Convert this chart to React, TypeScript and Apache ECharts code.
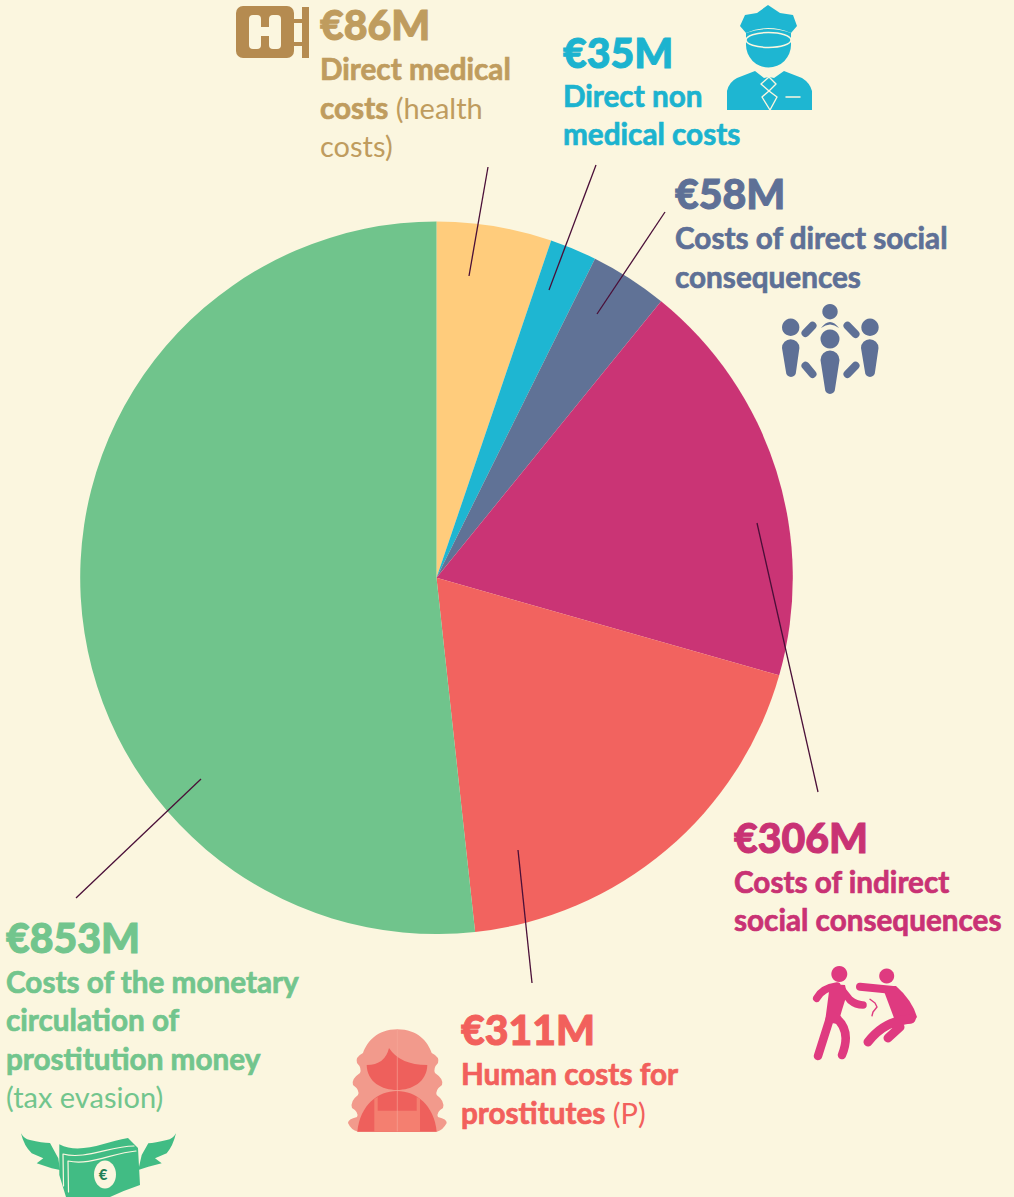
import React, { useEffect, useRef } from "react";
import * as echarts from "echarts";

const categories = [
  "Direct medical costs",
  "Direct non medical costs",
  "Costs of direct social consequences",
  "Costs of indirect social consequences",
  "Human costs for prostitutes",
  "Costs of the monetary circulation of prostitution money",
];
const values = [86, 35, 58, 306, 311, 853];
const sliceColors = ["#FFCC7C", "#1EB6D2", "#607296", "#CA3475", "#F2635F", "#70C48C"];
const textColors = ["#BF9C5E", "#1CB3CF", "#5E7096", "#C93274", "#F2605C", "#72C58D"];
const amounts = ["€86M", "€35M", "€58M", "€306M", "€311M", "€853M"];
const descriptions: string[][][] = [
  [["Direct medical"], ["costs", " (health"], ["", "costs)"]],
  [["Direct non"], ["medical costs"]],
  [["Costs of direct social"], ["consequences"]],
  [["Costs of indirect"], ["social consequences"]],
  [["Human costs for"], ["prostitutes", " (P)"]],
  [["Costs of the monetary"], ["circulation of"], ["prostitution money"], ["", "(tax evasion)"]],
];
const labelX = [320, 563, 675, 734, 461, 6];
const amountY = [24, 52, 193, 837, 1029, 937];
const lineY = [
  [68, 107, 145],
  [95, 133],
  [237, 276],
  [881, 919],
  [1073, 1112],
  [981, 1019, 1058, 1096],
];
const leaders = [
  [488, 167, 469, 276],
  [596, 165, 549, 290],
  [665, 212, 597, 314],
  [757, 523, 818, 792],
  [518, 850, 532, 983],
  [201, 779, 76, 898],
];

const BG = "#FBF6DF";
const FONT = "Lato";

const shapes: Record<string, string> = {
  capTop:
    "M768 5 L780 13 L793 15 L797 26 L791 33 Q768 23 746 33 L740 26 L745 15 L757 13 Z",
  capBand: "M746 33 Q768 25 791 33 L791 40 L746 40 Z",
  policeFace: "M746 40 Q768 50 791 40 L791 45 A22.5 22.5 0 0 1 746 45 Z",
  policeBody:
    "M727 110 L727 91 Q729 82 737 78 L755 71 L764 78 L769 77 L774 78 L784 71 L802 78 Q810 83 812 91 L812 110 Z",
  policeTie: "M769 77 L776 84 L769 91 L777 97 L770 110 L762 97 L769 91 L761 84 Z",
  crowdArc: "M821 328 Q830 316 839 328 Q830 321 821 328 Z",
  crowdLeft: "M782 348 A8.7 8.7 0 0 1 799.4 348 L796 372 A5 5 0 0 1 786 372 Z",
  crowdRight: "M861 348 A8.7 8.7 0 0 1 878.5 348 L875 372 A5 5 0 0 1 865 372 Z",
  crowdMid: "M820.5 360 A9.5 9.5 0 0 1 839.5 360 L835 389 A5 5 0 0 1 825 389 Z",
  fightArms: "M816.7 998.3 Q822 988 837 986 M842 990 L850 1000 Q856 1005 863 1005",
  fightTorso: "M830 984 L845 985 L847 994 L842 1010 L838 1024 L825 1022 Z",
  fightLegs: "M831 1015 L818 1056 M835 1017 Q852 1030 842 1055",
  fightArm2: "M860 986.7 L893 990",
  fightTorso2: "M882 986 L896 986 Q912 1000 917 1017 L913 1023 L897 1026 Z",
  fightLegs2: "M911 1019 Q885 1020 868 1042 M900 1027 L888 1038",
  pain: "M870 999.3 L875 1003 L877 1007 L873 1012 L872 1015.7",
  hair:
    "M397.3 1029.3 C418 1029.3 428 1042 431.7 1053 Q440 1057 438 1063 Q433 1068 435 1073 Q444 1079 442 1085 Q435 1090 436.7 1095 Q445 1101 443 1108 Q436 1112 438 1117 Q447 1119 446.7 1123 Q443 1130 437 1131.7 L358 1131.7 Q351 1130 348 1123 Q348 1119 357 1117 Q359 1112 352 1108 Q350 1101 358 1095 Q360 1090 353 1085 Q351 1079 360 1073 Q362 1068 357 1063 Q355 1057 363 1053 C367 1042 377 1029.3 397.3 1029.3 Z",
  face: "M366.7 1065 Q385 1065 389 1048 Q400 1065 427.3 1065 C427 1082 412 1090 397 1090 C382 1090 367 1082 366.7 1065 Z",
  torso: "M357.3 1131.7 C360 1105 378 1091 397 1091 C416 1091 434 1105 436.7 1131.7 Z",
  overall:
    "M374.3 1099 L377.7 1097 L377.7 1110.7 L416.7 1110.7 L416.7 1097 L420 1099 L420 1131.7 L374.3 1131.7 Z",
  wingL:
    "M21 1133.3 Q24 1139 30 1140 Q42 1143 50 1143 L58.3 1158.3 L60 1170 L51.7 1168.3 L36.7 1163.3 L43.3 1158.3 L31.7 1153.3 Q24 1146 21 1133.3 Z",
  wingR:
    "M176 1133.3 Q173 1139 166.7 1140 Q155 1143 148.3 1143.3 L141.7 1155 L138.3 1170 L148.3 1166.7 L161.7 1163.3 L155 1158.3 L166.7 1153.3 Q173 1146 176 1133.3 Z",
  bill: "M59.3 1144.3 C80 1155 105 1142 128 1138 L138 1148 L140 1185 Q125 1190 110 1197 L66 1197 L59.3 1175 Z",
  billLine1: "M63.5 1186 L63 1154 C85 1160 110 1146 134 1146",
  billLine2: "M68.5 1192 L68 1161 C90 1166 112 1153 136 1151",
};
Object.entries(shapes).forEach(([name, d]) => {
  echarts.graphic.registerShape(name, echarts.graphic.extendPath(d, {}) as any);
});

const fillShape = (type: string, fill: string) => ({ type, x: 0, y: 0, silent: true, style: { fill } });
const strokeShape = (type: string, stroke: string, lineWidth: number) => ({
  type,
  x: 0,
  y: 0,
  silent: true,
  style: { fill: "none", stroke, lineWidth, lineCap: "round", lineJoin: "round" },
});
const circle = (cx: number, cy: number, r: number, fill: string) => ({
  type: "circle",
  silent: true,
  shape: { cx, cy, r },
  style: { fill },
});
const rect = (x: number, y: number, width: number, height: number, r: number, fill: string) => ({
  type: "rect",
  silent: true,
  shape: { x, y, width, height, r },
  style: { fill },
});
const stick = (x1: number, y1: number, x2: number, y2: number, stroke: string, lineWidth: number) => ({
  type: "line",
  silent: true,
  shape: { x1, y1, x2, y2 },
  style: { stroke, lineWidth, lineCap: "round" },
});

function icons(): any[] {
  const tan = "#B58B50";
  const cyan = "#1EB6D2";
  const slate = "#5E7096";
  const pink = "#DF3A80";
  const money = "#41BC84";
  return [
    // hospital sign
    rect(236, 6, 58, 52, 7, tan),
    rect(302, 7, 7, 51, 0, tan),
    rect(294, 19, 8, 4, 0, tan),
    rect(294, 42, 8, 4, 0, tan),
    rect(249, 15, 12, 34, 4, BG),
    rect(269, 15, 12, 34, 4, BG),
    rect(259, 27, 12, 9, 0, BG),
    // officer
    fillShape("capTop", cyan),
    fillShape("capBand", cyan),
    fillShape("policeFace", cyan),
    fillShape("policeBody", cyan),
    strokeShape("policeTie", BG, 1.4),
    { type: "ellipse", silent: true, shape: { cx: 768.5, cy: 40, rx: 22.5, ry: 7.5 }, style: { fill: cyan, stroke: BG, lineWidth: 1.5 } },
    stick(786, 97, 800, 97, BG, 1.5),
    // crowd
    circle(830, 311.7, 7.7, slate),
    circle(830, 339, 9.5, slate),
    circle(790.7, 327.3, 8.7, slate),
    circle(870, 327.3, 8.7, slate),
    fillShape("crowdArc", slate),
    fillShape("crowdLeft", slate),
    fillShape("crowdRight", slate),
    fillShape("crowdMid", slate),
    stick(805.5, 333, 812.5, 325.7, slate, 8),
    stick(847.5, 325.7, 855.5, 334, slate, 8),
    stick(805.5, 365.7, 812.5, 374, slate, 8),
    stick(847.5, 374, 855.5, 365.7, slate, 8),
    // fight
    circle(839.3, 974, 8, pink),
    strokeShape("fightArms", pink, 7.5),
    fillShape("fightTorso", pink),
    strokeShape("fightLegs", pink, 8.5),
    circle(886.7, 976, 7.5, pink),
    strokeShape("fightArm2", pink, 8),
    fillShape("fightTorso2", pink),
    strokeShape("fightLegs2", pink, 9),
    strokeShape("pain", pink, 1.4),
    // woman
    fillShape("hair", "#F29A8C"),
    fillShape("face", "#EE605C"),
    fillShape("torso", "#EE605C"),
    fillShape("overall", "#F47F70"),
    stick(397.3, 1030, 397.3, 1131, "#F6A89B", 0.6),
    // money
    fillShape("wingL", money),
    fillShape("wingR", money),
    fillShape("bill", money),
    strokeShape("billLine1", BG, 1.2),
    strokeShape("billLine2", BG, 1.2),
    { type: "ellipse", silent: true, shape: { cx: 105, cy: 1174.5, rx: 11, ry: 14 }, style: { fill: BG } },
    {
      type: "text",
      silent: true,
      x: 103,
      y: 1174,
      style: { text: "€", fill: "#1F7F55", font: `900 15px ${FONT}`, align: "center", verticalAlign: "middle" },
    },
  ];
}

function labels(): any[] {
  const out: any[] = [];
  amounts.forEach((amount, i) => {
    out.push({
      type: "text",
      silent: true,
      x: labelX[i],
      y: amountY[i],
      style: {
        text: amount,
        fill: textColors[i],
        font: `900 41px ${FONT}`,
        align: "left",
        verticalAlign: "middle",
        stroke: textColors[i],
        lineWidth: 1,
      },
    });
    descriptions[i].forEach((segments, j) => {
      const [bold, light] = segments;
      const parts = [bold ? `{b|${bold}}` : "", light ? `{r|${light}}` : ""].join("");
      out.push({
        type: "text",
        silent: true,
        x: labelX[i],
        y: lineY[i][j],
        style: {
          text: parts,
          fill: textColors[i],
          align: "left",
          verticalAlign: "middle",
          rich: {
            b: { font: `700 29.7px ${FONT}`, fill: textColors[i], stroke: textColors[i], lineWidth: 0.7 },
            r: { font: `400 29px ${FONT}`, fill: textColors[i] },
          },
        },
      });
    });
  });
  return out;
}

function leaderLines(): any[] {
  return leaders.map(([x1, y1, x2, y2]) => ({
    type: "line",
    silent: true,
    z: 10,
    shape: { x1, y1, x2, y2 },
    style: { stroke: "#4A0F38", lineWidth: 1.3 },
  }));
}

export default function App() {
  const ref = useRef<HTMLDivElement>(null);
  useEffect(() => {
    const chart = echarts.init(ref.current!, undefined, { renderer: "svg" });
    chart.setOption({
      animation: false,
      backgroundColor: BG,
      series: [
        {
          type: "pie",
          center: [436.5, 577.8],
          radius: [0, 356.3],
          startAngle: 90,
          clockwise: true,
          silent: true,
          label: { show: false },
          labelLine: { show: false },
          data: categories.map((name, i) => ({
            name,
            value: values[i],
            itemStyle: { color: sliceColors[i] },
          })),
        },
      ],
      graphic: { elements: [...leaderLines(), ...icons(), ...labels()] },
    });
    return () => chart.dispose();
  }, []);
  return <div ref={ref} style={{ position: "fixed", left: 0, top: 0, width: 1014, height: 1197 }} />;
}
